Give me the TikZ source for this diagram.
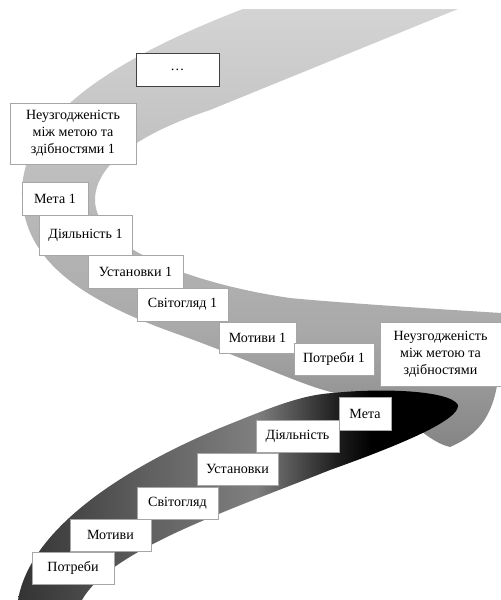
\documentclass[tikz,border=0pt]{standalone}
\usepackage{fontspec}
\setmainfont{Liberation Serif}
\usetikzlibrary{positioning}

\newcommand{\pxu}{0.025cm}
\pgfdeclareverticalshading{lightband}{100bp}{color(0bp)=(black!48); color(25bp)=(black!48); color(38bp)=(black!34); color(75bp)=(black!17); color(100bp)=(black!17)}
\pgfdeclarehorizontalshading{darkband}{100bp}{color(0bp)=(black!80); color(25bp)=(black!80); color(40bp)=(black!62); color(52bp)=(black!50); color(61bp)=(black!88); color(65bp)=(black); color(100bp)=(black)}

\begin{document}
\begin{tikzpicture}[
  x=0.025cm, y=-0.025cm,
  box/.style={draw=black!35, line width=0.5pt, fill=white, inner sep=0pt,
    align=center, font=\fontsize{10}{12}\selectfont},
  cell/.style 2 args={minimum width=#1*\pxu, minimum height=#2*\pxu},
  ]
  \useasboundingbox (0,0) rectangle (501,600);

  % upper (light) turn of the ribbon
  \shade[shading=lightband]
    (243,9) .. controls (110,60) and (20,120) .. (22,195)
    .. controls (24,260) and (80,300) .. (180,335)
    .. controls (250,360) and (300,385) .. (335,393)
    .. controls (400,400) and (420,440) .. (450,447)
    .. controls (490,430) and (501,400) .. (501,330) -- (501,313)
    .. controls (420,308) and (330,302) .. (290,298)
    .. controls (200,285) and (95,250) .. (95,200)
    .. controls (95,160) and (150,130) .. (210,110) -- (458,9) -- cycle;

  % lower (dark) turn of the ribbon
  \shade[shading=darkband]
    (333,393) .. controls (380,388) and (450,390) .. (458,405)
    .. controls (460,420) and (400,445) .. (330,470)
    .. controls (230,510) and (110,550) .. (82,600) -- (18,600)
    .. controls (30,530) and (120,470) .. (220,428)
    .. controls (270,408) and (300,395) .. (333,393) -- cycle;

  % first cycle
  \node[box, cell={83}{33}, draw=black!75] (dots) at (177.5,69.5) {\ldots};
  \node[box, cell={126}{61}] (mismatch1) at (73,133.5)
    {Неузгодженість\\між метою та\\здібностями 1};
  \node[box, cell={66}{33}] (goal1) at (55,198.5) {Мета 1};
  \node[box, cell={93}{40}] (activity1) at (85.5,235) {Діяльність 1};
  \node[box, cell={95}{33}] (attitudes1) at (135.5,271.5) {Установки 1};
  \node[box, cell={91}{33}] (worldview1) at (182.5,304.5) {Світогляд 1};
  \node[box, cell={77}{31}] (motives1) at (257.5,337.5) {Мотиви 1};
  \node[box, cell={80}{32}] (needs1) at (334,359) {Потреби 1};

  % base cycle
  \node[box, cell={121}{64}] (mismatch) at (440.5,354)
    {Неузгодженість\\між метою та\\здібностями};
  \node[box, cell={52}{33}] (goal) at (365,413.5) {Мета};
  \node[box, cell={83}{32}] (activity) at (297.5,436) {Діяльність};
  \node[box, cell={81}{32}] (attitudes) at (237.5,469) {Установки};
  \node[box, cell={81}{32}] (worldview) at (177.5,503) {Світогляд};
  \node[box, cell={81}{32}] (motives) at (110.5,535) {Мотиви};
  \node[box, cell={82}{32}] (needs) at (73,568) {Потреби};
\end{tikzpicture}
\end{document}
